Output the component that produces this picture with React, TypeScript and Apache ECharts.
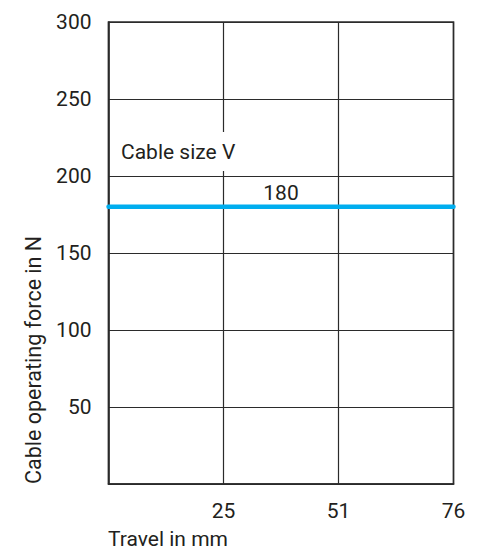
import React, { useEffect, useRef } from 'react';
import * as echarts from 'echarts';

const xPositions = [0, 1, 2, 3];
const xTickLabels = ['', '25', '51', '76'];
const forceValues = [180, 180, 180, 180];
const yMin = 0;
const yMax = 300;
const yStep = 50;
const seriesName = 'Cable size V';
const valueLabel = '180';
const valueLabelAt = 1.5;
const xAxisTitle = 'Travel in mm';
const yAxisTitle = 'Cable operating force in N';

const FONT = "Roboto, 'Liberation Sans', sans-serif";
const FS = 21;
const TEXT = '#231f20';
const GRIDC = '#2b2b2b';
const BLUE = '#00aeef';

export default function App() {
  const ref = useRef<HTMLDivElement>(null);
  useEffect(() => {
    if (!ref.current) return;
    const chart = echarts.init(ref.current, null, { renderer: 'svg' });
    chart.setOption({
      animation: false,
      backgroundColor: '#ffffff',
      textStyle: { fontFamily: FONT },
      grid: {
        left: 108.5,
        top: 22,
        right: 30.5,
        bottom: 67,
        show: true,
        borderColor: GRIDC,
        borderWidth: 1.6,
        backgroundColor: 'transparent',
        z: 0,
      },
      xAxis: {
        type: 'value',
        min: 0,
        max: 3,
        interval: 1,
        axisLine: { show: true, lineStyle: { color: GRIDC, width: 1.6 } },
        axisTick: { show: false },
        splitLine: { show: true, lineStyle: { color: GRIDC, width: 1.2 } },
        axisLabel: {
          color: TEXT,
          fontFamily: FONT,
          fontSize: FS,
          margin: 16,
          formatter: (v: number) => xTickLabels[xPositions.indexOf(Math.round(v))] ?? '',
        },
      },
      yAxis: {
        type: 'value',
        min: yMin,
        max: yMax,
        interval: yStep,
        axisLine: { show: true, lineStyle: { color: GRIDC, width: 1.6 } },
        axisTick: { show: false },
        splitLine: { show: true, lineStyle: { color: GRIDC, width: 1.2 } },
        axisLabel: {
          color: TEXT,
          fontFamily: FONT,
          fontSize: FS,
          margin: 17,
          formatter: (v: number) => (v === 0 ? '' : String(v)),
        },
      },
      series: [
        {
          name: seriesName,
          type: 'line',
          data: xPositions.map((x, i) => [x, forceValues[i]]),
          symbol: 'none',
          lineStyle: { color: BLUE, width: 4.5, cap: 'round' },
          z: 5,
          markPoint: {
            symbol: 'circle',
            symbolSize: 0,
            silent: true,
            data: [{ coord: [valueLabelAt, forceValues[0]] }],
            label: {
              show: true,
              position: 'inside',
              offset: [0, -14],
              formatter: valueLabel,
              color: TEXT,
              fontFamily: FONT,
              fontSize: FS,
            },
          },
        },
      ],
      graphic: [
        {
          type: 'text',
          z: 100,
          left: 117,
          top: 132,
          style: {
            text: seriesName,
            fill: TEXT,
            font: `${FS}px ${FONT}`,
            backgroundColor: '#ffffff',
            padding: [9, 4, 9, 4],
          },
        },
        {
          type: 'text',
          z: 100,
          x: 108,
          y: 539,
          style: {
            text: xAxisTitle,
            fill: TEXT,
            font: `${FS}px ${FONT}`,
            align: 'left',
            verticalAlign: 'middle',
          },
        },
        {
          type: 'text',
          z: 100,
          x: 33,
          y: 484,
          rotation: Math.PI / 2,
          style: {
            text: yAxisTitle,
            fill: TEXT,
            font: `21.5px ${FONT}`,
            align: 'left',
            verticalAlign: 'middle',
          },
        },
      ],
    });
    return () => chart.dispose();
  }, []);
  return (
    <div
      ref={ref}
      style={{ position: 'fixed', left: 0, top: 0, width: 484, height: 551 }}
    />
  );
}
